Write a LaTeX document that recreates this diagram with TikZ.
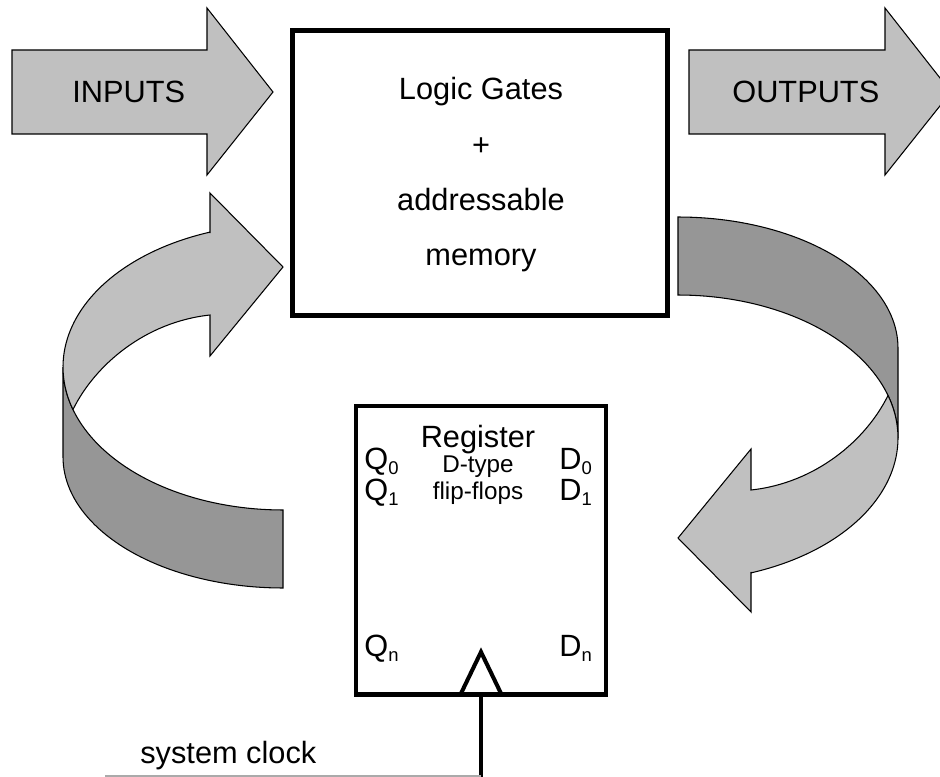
\documentclass[tikz,border=0pt]{standalone}
\usepackage{fontspec}
\setmainfont{Liberation Sans}
\definecolor{arrlight}{RGB}{192,192,192}
\definecolor{arrdark}{RGB}{150,150,150}
\definecolor{thingray}{RGB}{170,170,170}
\newcommand{\subidx}[1]{\raisebox{-3.2pt}{\fontsize{10.5}{12}\selectfont #1}}
\newcommand{\loopribbon}{%
  \draw[band] plot[domain=180:270, samples=50] ({283+220*cos(\x)},{367-143*sin(\x)})
     -- plot[domain=270:180, samples=50] ({283+220*cos(\x)},{457-131*sin(\x)}) -- cycle;
  \draw[flatarrow] (73,409.5) .. controls (95,365) and (145,322) .. (210,315)
     -- (210,356) -- (283,267) -- (210,193) -- (210,233)
     -- plot[domain=109.4:197.3, samples=50] ({283+220*cos(\x)},{367-143*sin(\x)}) -- cycle;
}
\tikzset{
  flatarrow/.style={fill=arrlight, draw=black, line width=0.6pt, line join=miter},
  band/.style={fill=arrdark, draw=black, line width=0.6pt},
  bigbox/.style={draw=black, line width=2.8pt, outer sep=0pt, inner sep=0pt},
  lbl/.style={font=\fontsize{17.5}{20}\selectfont, inner sep=0pt, anchor=base},
  smalllbl/.style={font=\fontsize{13.8}{16}\selectfont, inner sep=0pt, anchor=base},
}
\begin{document}
\begin{tikzpicture}[x=0.02cm,y=-0.02cm]
\useasboundingbox (0,0) rectangle (940,777);
\clip (0,0) rectangle (940,777);

% straight arrows
\draw[flatarrow] (12,50) -- (207,50) -- (207,8) -- (273,92) -- (207,175) -- (207,134) -- (12,134) -- cycle;
\node[lbl, anchor=base west] (inputs) at (72,103) {INPUTS};
\draw[flatarrow] (689,50) -- (885,50) -- (885,8) -- (951,92) -- (885,175) -- (885,134) -- (689,134) -- cycle;
\node[lbl, anchor=base west] (outputs) at (732,103) {OUTPUTS};

% curved feedback arrows
\loopribbon
\begin{scope}[rotate around={180:(480.5,402.5)}]
  \loopribbon
\end{scope}

% logic box
\node[bigbox, minimum width=7.5cm, minimum height=5.7cm] (logic) at (480,173) {};
\node[lbl] (l1) at (481,100) {Logic Gates};
\node[lbl] (l2) at (481,155) {+};
\node[lbl] (l3) at (481,210) {addressable};
\node[lbl] (l4) at (481,265) {memory};

% register
\node[bigbox, minimum width=5.0cm, minimum height=5.77cm] (reg) at (481,550.25) {};
\node[lbl] (regt) at (478,447) {Register};
\node[smalllbl] (dtype) at (478,472) {D-type};
\node[smalllbl] (ff) at (478,499) {flip-flops};
\node[lbl, anchor=base west] (q0) at (364,469) {Q\subidx{0}};
\node[lbl, anchor=base west] (q1) at (364,500) {Q\subidx{1}};
\node[lbl, anchor=base west] (qn) at (364,656) {Q\subidx{n}};
\node[lbl, anchor=base west] (d0) at (559,469) {D\subidx{0}};
\node[lbl, anchor=base west] (d1) at (559,500) {D\subidx{1}};
\node[lbl, anchor=base west] (dn) at (559,656) {D\subidx{n}};

% clock
\draw[line width=2.3pt, line join=miter] ([xshift=-0.41cm]reg.south) -- ([yshift=0.85cm]reg.south) -- ([xshift=0.41cm]reg.south);
\coordinate (clk) at (481,782);
\draw[line width=2.8pt] (reg.south) -- (clk);
\coordinate (sc) at (105,776);
\draw[thingray, line width=0.6pt] (sc) -- (sc -| clk);
\node[lbl, anchor=base west] (sclk) at (140,763) {system clock};
\end{tikzpicture}
\end{document}
